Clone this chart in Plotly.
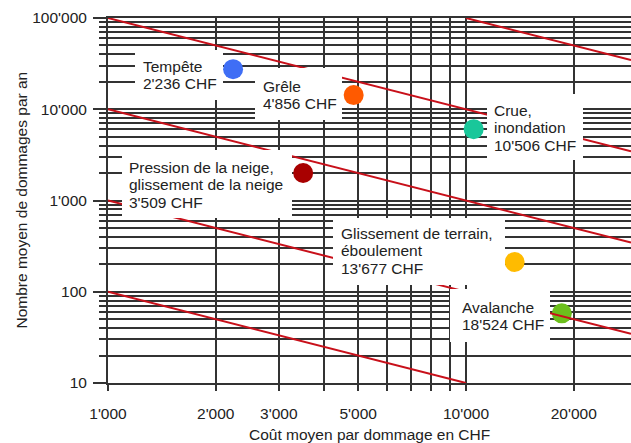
import plotly.graph_objects as go

# Natural-hazard damage: mean cost per claim (CHF) vs mean number of claims per year
categories = ["Tempête", "Grêle", "Crue, inondation",
              "Pression de la neige, glissement de la neige",
              "Glissement de terrain, éboulement", "Avalanche"]
label_lines = [["Tempête"], ["Grêle"], ["Crue,", "inondation"],
               ["Pression de la neige,", "glissement de la neige"],
               ["Glissement de terrain,", "éboulement"], ["Avalanche"]]
cost_chf = [2236, 4856, 10506, 3509, 13677, 18524]
claims_per_year = [27500, 14300, 6050, 2000, 212, 58]
point_colors = ["#3f6ef5", "#ff5a00", "#19c79a", "#a80000", "#ffbb00", "#6cbf1c"]

# Iso-loss lines: cost x number of claims = constant total (CHF per year)
iso_totals = [1e5, 1e6, 1e7, 1e8, 1e9]

x_tick_vals = [1000, 2000, 3000, 5000, 10000, 20000]
x_tick_text = ["1'000", "2'000", "3'000", "5'000", "10'000", "20'000"]
x_minor_vals = [4000, 6000, 7000, 8000, 9000]
x_decades = [1000, 10000]
y_tick_vals = [10, 100, 1000, 10000, 100000]
y_tick_text = ["10", "100", "1'000", "10'000", "100'000"]
y_minor_vals = [m * d for d in (10, 100, 1000, 10000) for m in range(2, 10)]

X_MIN, X_MAX = 1000, 10 ** 4.461
Y_MIN, Y_MAX = 10, 100000

# ---- page geometry (pixels) ----
W, H = 631, 443
ML, MR, MT, MB = 108, 0, 18, 60
PW, PH = W - ML - MR, H - MT - MB


def px_x(px):
    return (px - ML) / PW


def px_y(py):
    return (H - MB - py) / PH


# White label panels (left, right, top, bottom in px) and text origin (left, first baseline)
label_boxes = [
    (135, 223, 50, 100, 142, 71.7),
    (255, 342, 68, 120, 262, 91.7),
    (487, 583, 94, 160, 493, 116.0),
    (122, 292, 150, 218, 128, 173.0),
    (333, 505, 218, 285, 340, 239.0),
    (450, 550, 289, 342, 461, 313.0),
]
LINE_STEP = 17.2

FONT = "Liberation Sans, Arial, sans-serif"
INK = "#222222"
GRID = "#333333"

fig = go.Figure()

# data points
fig.add_trace(go.Scatter(
    x=cost_chf, y=claims_per_year, mode="markers",
    marker=dict(size=20, color=point_colors, line=dict(width=0)),
    text=categories, hoverinfo="text", showlegend=False,
))

# iso-loss lines, clipped to the plotting window
for total in iso_totals:
    x0 = max(X_MIN, total / Y_MAX)
    x1 = min(X_MAX, total / Y_MIN)
    fig.add_trace(go.Scatter(
        x=[x0, x1], y=[total / x0, total / x1], mode="lines",
        line=dict(color="#c8101a", width=2), hoverinfo="skip", showlegend=False,
    ))

# label panels and texts
for lines, cost, box in zip(label_lines, cost_chf, label_boxes):
    x0, x1, y0, y1, tx, ty = box
    fig.add_shape(type="rect", xref="paper", yref="paper",
                  x0=px_x(x0), x1=px_x(x1), y0=px_y(y1), y1=px_y(y0),
                  fillcolor="white", line=dict(width=0), layer="above")
    all_lines = lines + [f"{cost:,}".replace(",", "'") + " CHF"]
    for i, line in enumerate(all_lines):
        base = ty + i * LINE_STEP
        fig.add_annotation(xref="paper", yref="paper", x=px_x(tx), y=px_y(base - 5.3),
                           xanchor="left", yanchor="middle", text=line, showarrow=False,
                           borderpad=0, font=dict(family=FONT, size=15.5, color=INK))

# axis titles
fig.add_annotation(xref="paper", yref="paper", x=0.5, y=px_y(434.7),
                   xanchor="center", yanchor="middle", showarrow=False,
                   text="Coût moyen par dommage en CHF",
                   font=dict(family=FONT, size=15.5, color=INK))
fig.add_annotation(xref="paper", yref="paper", x=px_x(21), y=0.5, textangle=-90,
                   xanchor="center", yanchor="middle", showarrow=False,
                   text="Nombre moyen de dommages par an",
                   font=dict(family=FONT, size=15.5, color=INK))

fig.update_layout(
    width=W, height=H,
    margin=dict(l=ML, r=MR, t=MT, b=MB, pad=0),
    paper_bgcolor="white", plot_bgcolor="white",
    font=dict(family=FONT, size=15.5, color=INK),
    showlegend=False,
    xaxis=dict(
        type="log", range=[3, 4.461],
        tickmode="array", tickvals=x_tick_vals, ticktext=x_tick_text,
        ticks="outside", ticklen=6, tickwidth=2, tickcolor=GRID,
        ticklabelstandoff=10,
        showgrid=True, gridcolor=GRID, gridwidth=2,
        minor=dict(tickmode="array", tickvals=x_minor_vals, ticks="outside",
                   ticklen=6, tickwidth=2, tickcolor=GRID,
                   showgrid=True, gridcolor=GRID, gridwidth=2),
        showline=True, linecolor=GRID, linewidth=1.5, mirror=True,
        zeroline=False, fixedrange=True,
    ),
    xaxis2=dict(
        type="log", range=[3, 4.461], overlaying="x", anchor="y", side="bottom",
        tickmode="array", tickvals=x_decades, ticks="outside", ticklen=12,
        tickwidth=2, tickcolor=GRID, showticklabels=False, showgrid=False,
        zeroline=False, showline=False, fixedrange=True,
    ),
    yaxis=dict(
        type="log", range=[1, 5],
        tickmode="array", tickvals=y_tick_vals, ticktext=y_tick_text,
        ticks="outside", ticklen=13, tickwidth=1.5, tickcolor=GRID,
        ticklabelstandoff=3,
        showgrid=True, gridcolor=GRID, gridwidth=1.5,
        minor=dict(tickmode="array", tickvals=y_minor_vals, ticks="outside",
                   ticklen=7, tickwidth=1.5, tickcolor=GRID,
                   showgrid=True, gridcolor=GRID, gridwidth=1.5),
        showline=True, linecolor=GRID, linewidth=2,
        zeroline=False, fixedrange=True,
    ),
)

fig.write_html("out.html")
